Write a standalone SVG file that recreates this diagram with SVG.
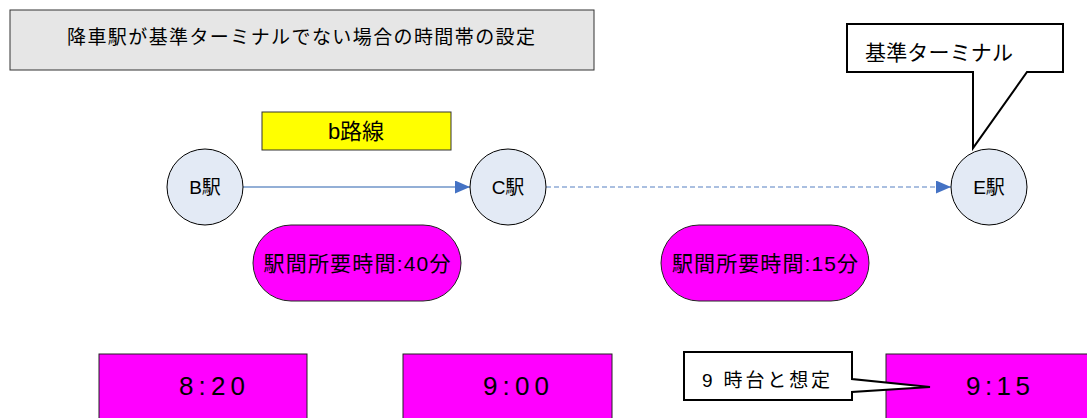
<svg xmlns="http://www.w3.org/2000/svg" width="1087" height="418" viewBox="0 0 1087 418">
<style>
text{font-family:"Liberation Sans","Noto Sans CJK JP",sans-serif;fill:#000}
.st{fill:#e3eaf5;stroke:#000;stroke-width:1}
.mag{fill:#ff00ff;stroke:#222;stroke-width:1}
.call{fill:#fff;stroke:#000;stroke-width:2;stroke-linejoin:miter}
.lbl{font-size:19px;text-anchor:middle}
.time{font-size:26px;text-anchor:middle}
.pill{font-size:21px;text-anchor:middle}
</style>
<defs>
<marker id="ah" viewBox="0 0 15 13" refX="15" refY="6.5" markerWidth="15" markerHeight="13" markerUnits="userSpaceOnUse" orient="auto">
<path d="M0,0 L15,6.5 L0,13 Z" fill="#4472c4"/>
</marker>
</defs>
<g id="title">
<rect x="10" y="10" width="584" height="60" fill="#e6e6e6" stroke="#333" stroke-width="1"/>
<text x="301" y="44" font-size="19" text-anchor="middle" textLength="468" lengthAdjust="spacing">降車駅が基準ターミナルでない場合の時間帯の設定</text>
</g>
<g id="connectors">
<line x1="243" y1="187" x2="470" y2="187" stroke="#6f94c9" stroke-width="1.3" marker-end="url(#ah)"/>
<line x1="546" y1="187" x2="951" y2="187" stroke="#8eaad6" stroke-width="1.3" stroke-dasharray="5,3" marker-end="url(#ah)"/>
</g>
<g id="route-b">
<rect x="262" y="112" width="189" height="38" fill="#ffff00" stroke="#333" stroke-width="1"/>
<text x="356" y="139" font-size="22" text-anchor="middle">b路線</text>
</g>
<g id="station-b">
<circle class="st" cx="205" cy="187" r="38"/>
<text class="lbl" x="205" y="194">B駅</text>
</g>
<g id="station-c">
<circle class="st" cx="508" cy="187" r="38"/>
<text class="lbl" x="508" y="194">C駅</text>
</g>
<g id="station-e">
<circle class="st" cx="989" cy="187" r="38"/>
<text class="lbl" x="989" y="194">E駅</text>
</g>
<g id="callout-terminal">
<path class="call" d="M847,24 H1063 V72 H1027 L973,148 V72 H847 Z"/>
<text x="865" y="60" font-size="21" textLength="148" lengthAdjust="spacing">基準ターミナル</text>
</g>
<g id="pill-bc">
<rect class="mag" x="253" y="225" width="208" height="76" rx="38" ry="38"/>
<text class="pill" x="357" y="271" textLength="187" lengthAdjust="spacing">駅間所要時間:40分</text>
</g>
<g id="pill-ce">
<rect class="mag" x="661" y="225" width="208" height="76" rx="38" ry="38"/>
<text class="pill" x="765" y="271" textLength="186" lengthAdjust="spacing">駅間所要時間:15分</text>
</g>
<g id="time-b">
<rect class="mag" x="99" y="354" width="208" height="70"/>
<text class="time" x="212" y="395" textLength="66" lengthAdjust="spacing">8:20</text>
</g>
<g id="time-c">
<rect class="mag" x="403" y="354" width="209" height="70"/>
<text class="time" x="516" y="395" textLength="66" lengthAdjust="spacing">9:00</text>
</g>
<g id="time-e">
<rect class="mag" x="886" y="354" width="205" height="70"/>
<text class="time" x="998" y="395" textLength="64" lengthAdjust="spacing">9:15</text>
</g>
<g id="callout-9">
<path class="call" d="M684,352 H852 V379 L930,387 L852,392 V400 H684 Z"/>
<text x="702" y="387" font-size="19" textLength="128" lengthAdjust="spacing">9 時台と想定</text>
</g>
</svg>
